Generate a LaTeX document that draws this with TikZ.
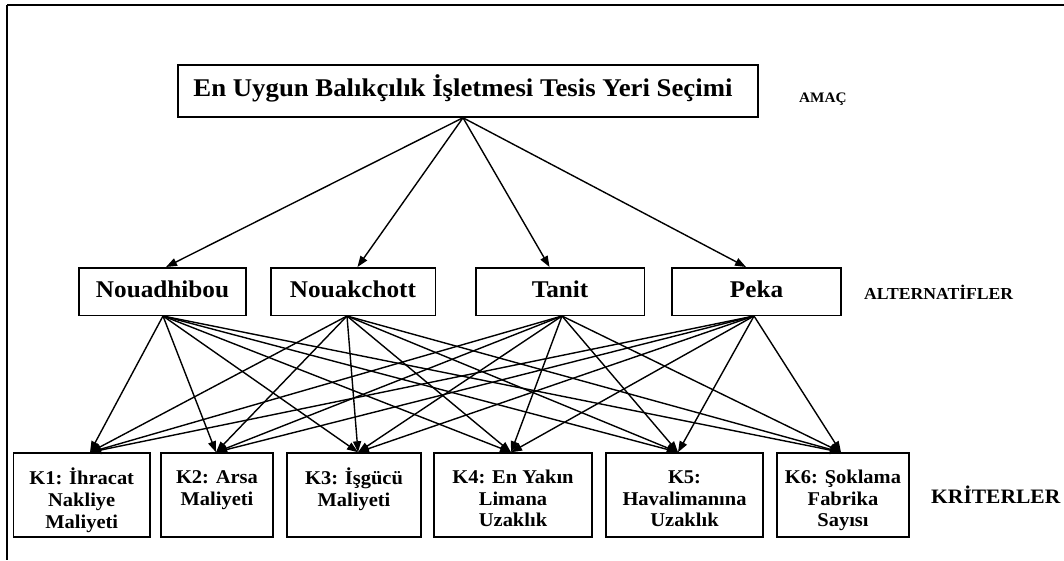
\documentclass[tikz,border=0pt]{standalone}
\usepackage{fontspec}
\setmainfont{Liberation Serif}[FakeStretch=1.05]
\usetikzlibrary{arrows.meta}
\begin{document}
\begin{tikzpicture}[x=1pt,y=-1pt,
  box/.style={draw, line width=1.5pt, inner sep=0pt},
  topbox/.style={box, minimum width=580pt, minimum height=52pt},
  altbox/.style={box, minimum height=47.5pt, text height=11pt, text depth=0pt,
    font=\fontsize{24}{28}\selectfont\bfseries},
  critbox/.style={box, minimum height=84pt},
  crittext/.style={anchor=north, inner sep=0pt, align=center,
    font=\fontsize{19.5}{21.7}\selectfont\bfseries},
  levellabel/.style={anchor=base west, inner sep=0pt, font=\bfseries},
  conn/.style={line width=1.4pt, -{Triangle[length=11pt,width=8pt]}}
]
\useasboundingbox (0,0) rectangle (1064,560);
% page frame
\draw[line width=2pt] (7,4.5) -- (1064,4.5);
\draw[line width=1.2pt] (7,4.5) -- (7,560);

% goal
\node[topbox] (top) at (468,91) {};
\node[anchor=base, inner sep=0pt, font=\fontsize{25.5}{30}\selectfont\bfseries] (topt) at (463,96.5) {En Uygun Balıkçılık İşletmesi Tesis Yeri Seçimi};
\node[levellabel, font=\fontsize{14.5}{17}\selectfont\bfseries] (amac) at (799,102.5) {AMAÇ};

% alternatives
\node[altbox, minimum width=167pt] (a1) at (162.5,291.5) {Nouadhibou};
\node[altbox, minimum width=164.5pt] (a2) at (353,291.5) {Nouakchott};
\node[altbox, minimum width=168.5pt] (a3) at (560,291.5) {Tanit};
\node[altbox, minimum width=169pt] (a4) at (756.5,291.5) {Peka};
\node[levellabel, font=\fontsize{16.8}{19}\selectfont\bfseries] (alt) at (864,299) {ALTERNATİFLER};

% criteria
\node[critbox, minimum width=136.5pt] (k1) at (81.75,495) {};
\node[critbox, minimum width=112pt] (k2) at (217,495) {};
\node[critbox, minimum width=134pt] (k3) at (354,495) {};
\node[critbox, minimum width=158pt] (k4) at (513,495) {};
\node[critbox, minimum width=157pt] (k5) at (684.5,495) {};
\node[critbox, minimum width=132pt] (k6) at (843,495) {};
\node[crittext] (k1t) at (81.75,468) {\strut K1: İhracat\\Nakliye\\Maliyeti};
\node[crittext] (k2t) at (217,468) {\strut K2: Arsa\\Maliyeti};
\node[crittext] (k3t) at (354,468) {\strut K3: İşgücü\\Maliyeti};
\node[crittext] (k4t) at (513,468) {\strut K4: En Yakın\\Limana\\Uzaklık};
\node[crittext] (k5t) at (684.5,468) {\strut K5:\\Havalimanına\\Uzaklık};
\node[crittext] (k6t) at (843,468) {\strut K6: Şoklama\\Fabrika\\Sayısı};
\node[levellabel, font=\fontsize{20.5}{23}\selectfont\bfseries] (krit) at (931,503.5) {KRİTERLER};

% connector end points
\coordinate (topo) at ([xshift=-5pt]top.south);
\coordinate (a1i) at ([xshift=3.5pt]a1.north);
\coordinate (a2i) at ([xshift=4.5pt]a2.north);
\coordinate (a3i) at ([xshift=-10.5pt]a3.north);
\coordinate (a4i) at ([xshift=-10.5pt]a4.north);
\coordinate (a1o) at ([xshift=0.5pt]a1.south);
\coordinate (a2o) at ([xshift=-6pt]a2.south);
\coordinate (a3o) at ([xshift=2pt]a3.south);
\coordinate (a4o) at ([xshift=-2.5pt]a4.south);
\coordinate (k1i) at ([xshift=8.25pt]k1.north);
\coordinate (k2i) at ([xshift=-1pt]k2.north);
\coordinate (k3i) at ([xshift=4pt]k3.north);
\coordinate (k4i) at ([xshift=-2pt]k4.north);
\coordinate (k5i) at ([xshift=-6.5pt]k5.north);
\coordinate (k6i) at ([xshift=-2pt]k6.north);

% goal -> alternatives
\foreach \a in {a1,a2,a3,a4}
  \draw[conn] (topo) -- (\a i);
% alternatives -> criteria
\foreach \a in {a1,a2,a3,a4}
  \foreach \k in {k1,k2,k3,k4,k5,k6}
    \draw[conn] (\a o) -- (\k i);
\end{tikzpicture}
\end{document}
